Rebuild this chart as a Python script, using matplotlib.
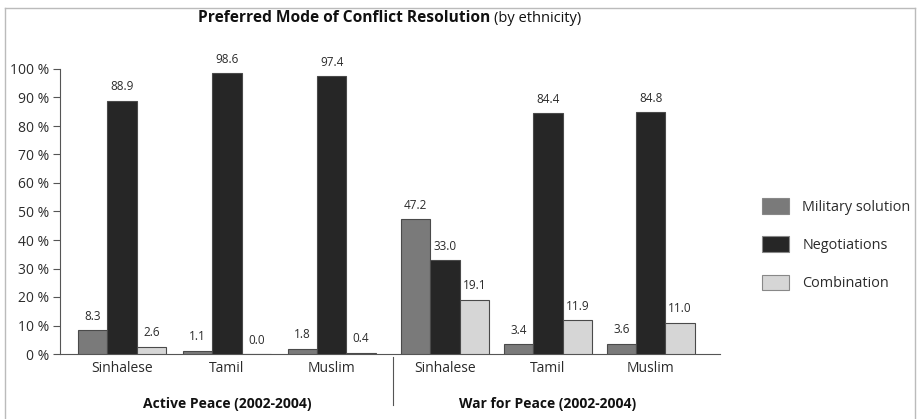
import matplotlib
matplotlib.use("Agg")
import matplotlib.pyplot as plt
import numpy as np
from matplotlib.patches import Patch
from matplotlib.lines import Line2D

plt.rcParams['font.family'] = ['Open Sans', 'DejaVu Sans']

# Data
ethnicities = ["Sinhalese", "Tamil", "Muslim"]
periods = ["Active Peace (2002-2004)", "War for Peace (2002-2004)"]
series_names = ["Military solution", "Negotiations", "Combination"]
military = [8.3, 1.1, 1.8, 47.2, 3.4, 3.6]
negotiations = [88.9, 98.6, 97.4, 33.0, 84.4, 84.8]
combination = [2.6, 0.0, 0.4, 19.1, 11.9, 11.0]
yticks = [0, 10, 20, 30, 40, 50, 60, 70, 80, 90, 100]

colors = ["#7a7a7a", "#262626", "#d6d6d6"]
edge = "#4a4a4a"
txt = "#2b2b2b"

fig = plt.figure(figsize=(9.2, 4.19), dpi=100)
ax = fig.add_axes([60 / 920, 1 - 354 / 419, (720 - 60) / 920, (354 - 69) / 419])

centers = np.array([0, 1, 2, 3.08, 4.06, 5.04])
w = 0.28
for k, vals in enumerate([military, negotiations, combination]):
    xs = centers + (k - 1) * w
    ax.bar(xs, vals, width=w, color=colors[k], edgecolor=edge, linewidth=0.8, zorder=3)
    for x, v in zip(xs, vals):
        ax.text(x, v + 2.6, f"{v:.1f}", ha="center", va="bottom", fontsize=8.5,
                color=txt, clip_on=False)

ax.set_xlim(-0.59, 5.7)
ax.set_ylim(0, 100)
ax.set_yticks(yticks)
ax.set_yticklabels([f"{t} %" for t in yticks], fontsize=10, color=txt)
ax.set_xticks(centers)
ax.set_xticklabels(ethnicities * 2, fontsize=10, color=txt)
ax.tick_params(axis="x", length=0, pad=5)
ax.tick_params(axis="y", length=5, width=0.8, color="#555555", pad=3)
for s in ["top", "right"]:
    ax.spines[s].set_visible(False)
for s in ["left", "bottom"]:
    ax.spines[s].set_color("#555555")
    ax.spines[s].set_linewidth(0.8)

# separator between the two periods
sep_x = (2 + 3.08) / 2 + 0.04
ax.add_line(Line2D([sep_x, sep_x], [-1, -18], color="#555555", linewidth=0.8,
                   clip_on=False))

ax.text(1, -17.5, periods[0], ha="center", va="center", fontsize=10,
        fontweight="bold", color="#111111", clip_on=False)
ax.text(4.06, -17.5, periods[1], ha="center", va="center", fontsize=10,
        fontweight="bold", color="#111111", clip_on=False)

# title
fig.text(490 / 920, 1 - 18 / 419, "Preferred Mode of Conflict Resolution",
         ha="right", va="center", fontsize=11.2, fontweight="bold", color="#111111")
fig.text(494 / 920, 1 - 18 / 419, "(by ethnicity)", ha="left", va="center",
         fontsize=10.5, color="#111111")

# legend
handles = [Patch(facecolor=c, edgecolor="#888888", linewidth=0.8) for c in colors]
fig.legend(handles, series_names, loc="upper left",
           bbox_to_anchor=(749 / 920, 1 - 185 / 419), frameon=False,
           fontsize=10.4, handlelength=1.9, handleheight=1.3, labelspacing=1.5,
           handletextpad=0.9, labelcolor=txt)

# frame around the figure
for xs_, ys_ in [([5, 915], [8, 8]), ([5, 5], [8, 419]), ([915, 915], [8, 419])]:
    fig.add_artist(Line2D([x / 920 for x in xs_], [1 - y / 419 for y in ys_],
                          color="#bbbbbb", linewidth=1.0))

fig.savefig("out.png", dpi=100)
